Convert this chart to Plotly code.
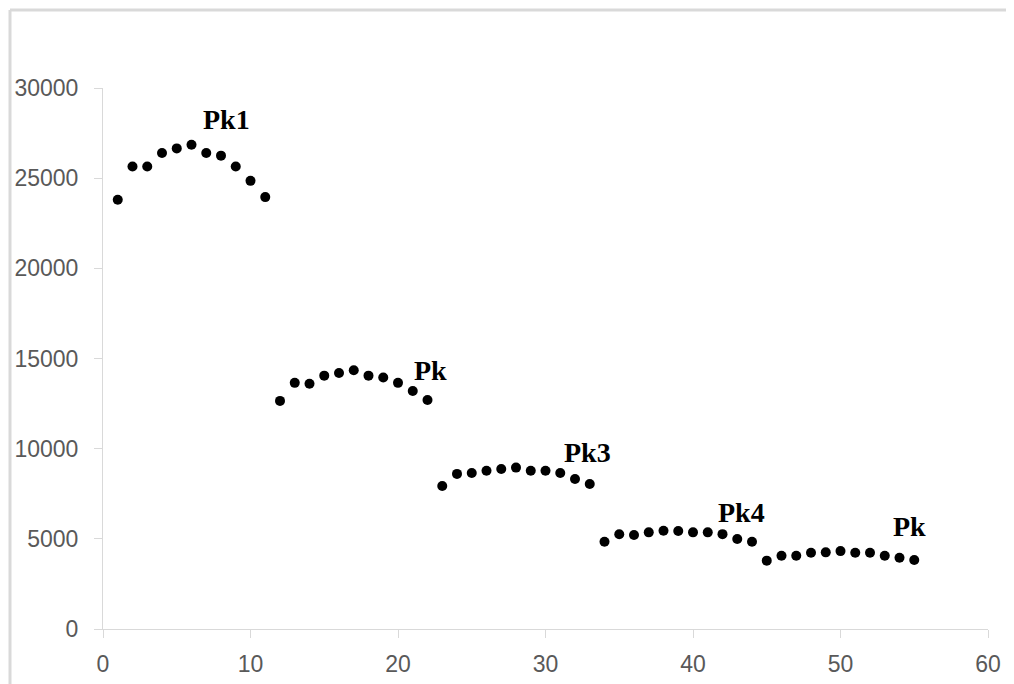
import plotly.graph_objects as go

# Sample index (x) and measured values (y) for the five peaks
x_vals = list(range(1, 56))
y_vals = [
    23800, 25650, 25650, 26400, 26650, 26850, 26400, 26250, 25650, 24850, 23950,
    12650, 13650, 13600, 14050, 14200, 14350, 14050, 13950, 13650, 13200, 12700,
    7930, 8600, 8650, 8780, 8870, 8950, 8780, 8780, 8650, 8320, 8040,
    4840, 5250, 5210, 5360, 5450, 5430, 5360, 5360, 5260, 4990, 4840,
    3790, 4060, 4060, 4230, 4250, 4320, 4230, 4230, 4060, 3950, 3830,
]

peak_labels = ["Pk1", "Pk", "Pk3", "Pk4", "Pk"]
peak_label_x = [8.39, 22.22, 32.85, 43.28, 54.66]
peak_label_y = [28250, 14350, 9760, 6480, 5680]

x_ticks = [0, 10, 20, 30, 40, 50, 60]
y_ticks = [0, 5000, 10000, 15000, 20000, 25000, 30000]
y_tick_text = ["0", "5000", "10000", "15000", "20000", "25000", "30000"]

fig = go.Figure()
fig.add_trace(go.Scatter(
    x=x_vals, y=y_vals, mode="markers",
    marker=dict(color="black", size=10, line=dict(width=0)),
    showlegend=False, hoverinfo="x+y",
))

for t, lx, ly in zip(peak_labels, peak_label_x, peak_label_y):
    fig.add_annotation(
        x=lx, y=ly, text="<b>" + t + "</b>", showarrow=False,
        xanchor="center", yanchor="middle",
        font=dict(family="Liberation Serif", size=28, color="black"),
        xref="x", yref="y",
    )

axis_color = "#d9d9d9"
tick_font = dict(family="Liberation Sans", size=23, color="#595959")

# The page body adds an 8px offset, so the figure is 8px smaller than the window
fig.update_layout(
    width=1006, height=676,
    margin=dict(l=95, r=26, t=80, b=55, autoexpand=False),
    paper_bgcolor="white", plot_bgcolor="white",
    xaxis=dict(
        range=[0, 60], tickvals=x_ticks, showgrid=False, zeroline=False,
        showline=True, linecolor=axis_color, linewidth=1, automargin=False,
        ticks="outside", ticklen=8, tickcolor=axis_color, tickwidth=1,
        tickfont=tick_font, ticklabelstandoff=6,
    ),
    yaxis=dict(
        range=[0, 30000], tickvals=y_ticks, ticktext=y_tick_text,
        showgrid=False, zeroline=False, automargin=False,
        showline=True, linecolor=axis_color, linewidth=1,
        ticks="outside", ticklen=8, tickcolor=axis_color, tickwidth=1,
        tickfont=tick_font, ticklabelstandoff=11,
    ),
)

# Outer chart border (left and top edges visible)
x_left = (10 - 103) / 885
x_right = (1014 - 103) / 885 + 0.01
y_top = (629 - 10) / 541
y_bottom = (629 - 684) / 541 - 0.01
fig.add_shape(type="line", xref="paper", yref="paper", x0=x_left, x1=x_left,
              y0=y_bottom, y1=y_top, line=dict(color=axis_color, width=3))
fig.add_shape(type="line", xref="paper", yref="paper", x0=x_left, x1=x_right,
              y0=y_top, y1=y_top, line=dict(color=axis_color, width=3))

fig.write_html("out.html")
